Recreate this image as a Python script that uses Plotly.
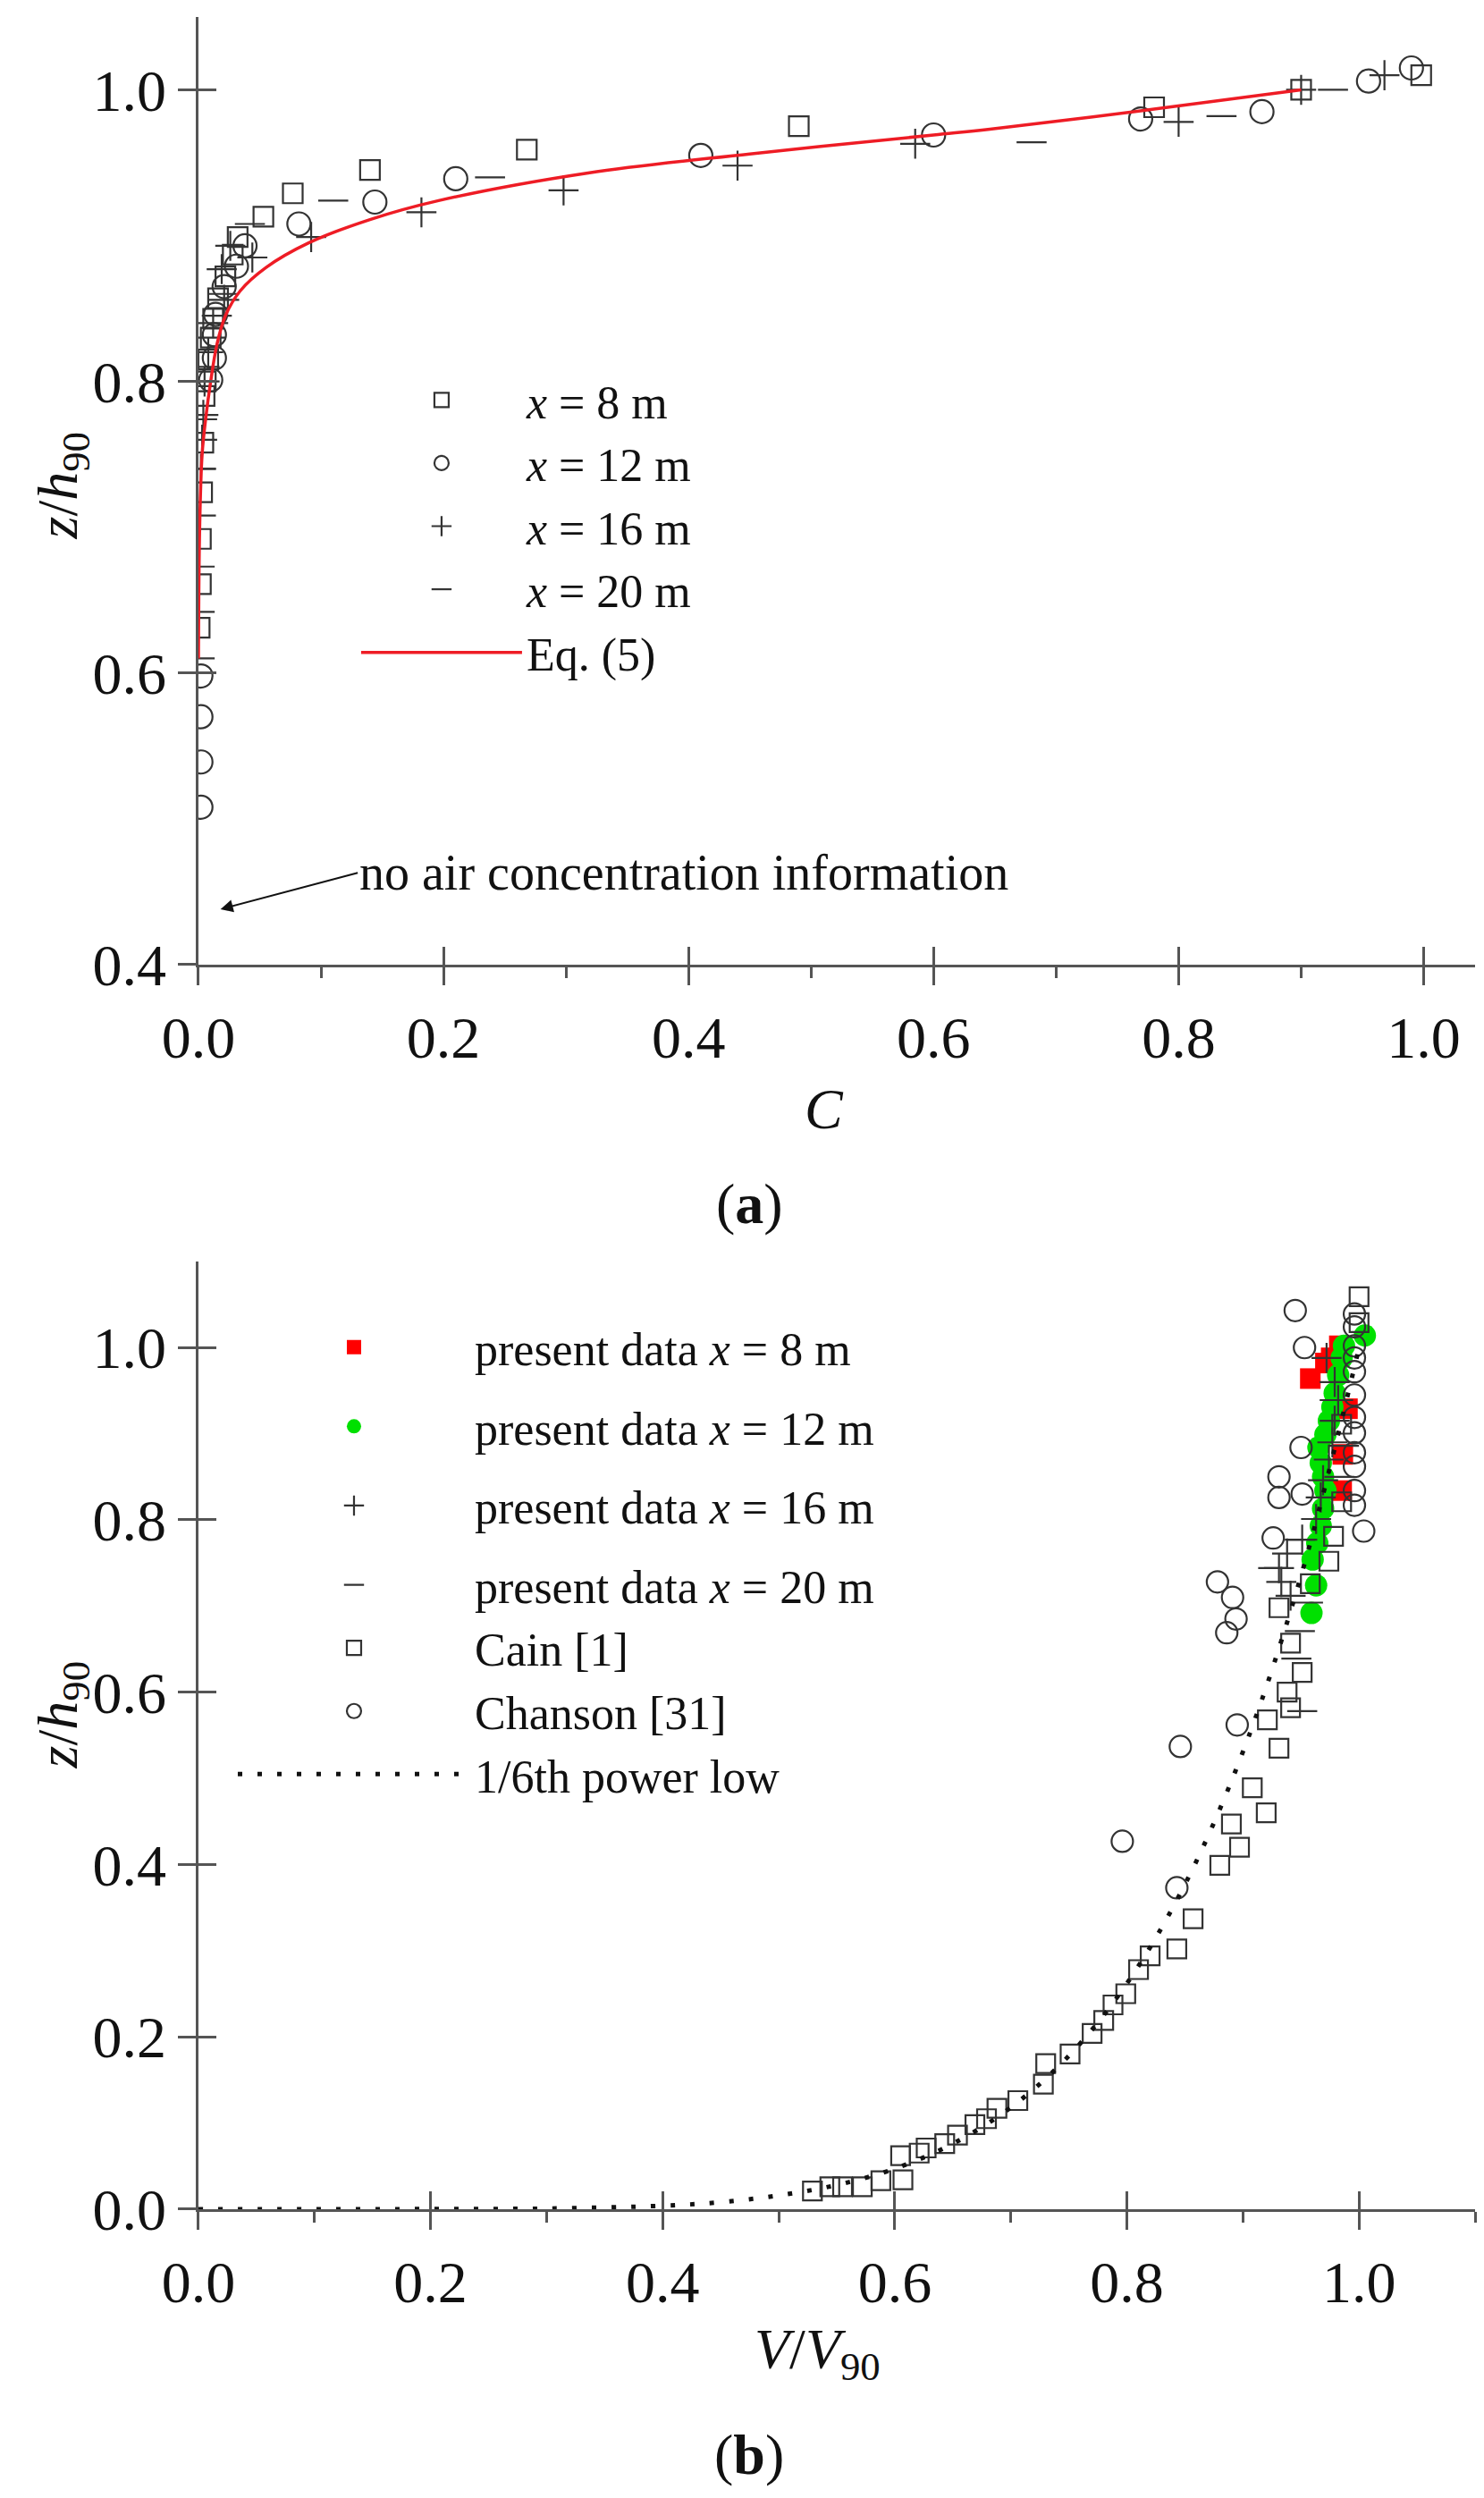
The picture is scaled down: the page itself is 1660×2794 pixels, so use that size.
import plotly.graph_objects as go

# ---- panel (a): air concentration C vs z/h90 ----
c_8m = [0.998, 0.90, 0.78, 0.49, 0.268, 0.14, 0.077, 0.053, 0.032, 0.028, 0.022, 0.016,
        0.012, 0.010, 0.008, 0.006, 0.005, 0.004, 0.003, 0.002, 0.002, 0.001]
z_8m = [1.010, 1.000, 0.988, 0.975, 0.959, 0.945, 0.929, 0.913, 0.899, 0.887, 0.872, 0.857,
        0.843, 0.830, 0.815, 0.800, 0.790, 0.758, 0.724, 0.692, 0.661, 0.631]

c_12m = [0.99, 0.955, 0.868, 0.769, 0.60, 0.41, 0.21, 0.144, 0.082, 0.038, 0.031, 0.021,
         0.014, 0.013, 0.013, 0.010, 0.002, 0.002, 0.002, 0.002]
z_12m = [1.015, 1.006, 0.985, 0.980, 0.969, 0.955, 0.939, 0.923, 0.908, 0.893, 0.879, 0.865,
         0.846, 0.832, 0.816, 0.801, 0.598, 0.570, 0.539, 0.508]

c_16m = [0.968, 0.90, 0.80, 0.585, 0.44, 0.298, 0.182, 0.092, 0.044, 0.026, 0.019, 0.021,
         0.012, 0.008, 0.005, 0.004, 0.003, 0.002]
z_16m = [1.010, 1.000, 0.978, 0.963, 0.948, 0.931, 0.916, 0.899, 0.885, 0.893, 0.877, 0.856,
         0.840, 0.820, 0.800, 0.777, 0.760, 0.740]

c_20m = [0.926, 0.835, 0.68, 0.238, 0.11, 0.042, 0.020, 0.015, 0.010, 0.005, 0.003, 0.002,
         0.002, 0.001, 0.001, 0.001]
z_20m = [1.000, 0.982, 0.964, 0.940, 0.924, 0.908, 0.860, 0.845, 0.830, 0.810, 0.774, 0.740,
         0.708, 0.673, 0.642, 0.610]

c_eq5 = [0.0, 0.001, 0.003, 0.006, 0.010, 0.015, 0.022, 0.034, 0.055, 0.090, 0.140, 0.196,
         0.318, 0.45, 0.60, 0.646, 0.773, 0.90]
z_eq5 = [0.610, 0.700, 0.750, 0.775, 0.800, 0.825, 0.845, 0.862, 0.878, 0.895, 0.911, 0.924,
         0.943, 0.956, 0.969, 0.973, 0.986, 1.000]

# ---- panel (b): V/V90 vs z/h90 ----
v_p8 = [0.958, 0.971, 0.976, 0.983, 0.990, 0.986, 0.985]
z_p8 = [0.964, 0.982, 0.988, 1.002, 0.929, 0.876, 0.834]

v_p12 = [0.959, 0.963, 0.960, 0.964, 0.967, 0.969, 0.971, 0.969, 0.967, 0.965, 0.971, 0.974,
         0.977, 0.979, 0.982, 0.985, 0.987, 1.005]
z_p12 = [0.692, 0.724, 0.754, 0.773, 0.793, 0.813, 0.834, 0.850, 0.866, 0.884, 0.899, 0.915,
         0.931, 0.947, 0.968, 0.988, 1.002, 1.014]

v_p16 = [0.972, 0.979, 0.982, 0.979, 0.977, 0.974, 0.969, 0.967, 0.963, 0.951, 0.938, 0.931,
         0.933, 0.941]
z_p16 = [0.988, 0.960, 0.939, 0.915, 0.890, 0.870, 0.846, 0.826, 0.801, 0.777, 0.761, 0.744,
         0.728, 0.712]

v_p20 = [0.949, 0.926, 0.956, 0.949, 0.946, 0.951, 0.979, 0.987, 0.983]
z_p20 = [0.777, 0.744, 0.704, 0.671, 0.639, 0.578, 0.939, 0.886, 0.850]

v_cain = [0.529, 0.544, 0.555, 0.572, 0.588, 0.607, 0.605, 0.621, 0.627, 0.643, 0.654, 0.669,
          0.679, 0.688, 0.706, 0.728, 0.730, 0.751, 0.770, 0.780, 0.788, 0.799, 0.810, 0.820,
          0.843, 0.857, 0.880, 0.897, 0.890, 0.920, 0.908, 0.931, 0.921, 0.941, 0.938, 0.951,
          0.941, 0.931, 0.958, 0.974, 0.978, 0.985, 0.985, 1.000, 1.000]
z_cain = [0.021, 0.026, 0.026, 0.026, 0.033, 0.034, 0.062, 0.065, 0.071, 0.076, 0.086, 0.098,
          0.105, 0.117, 0.126, 0.145, 0.169, 0.180, 0.204, 0.219, 0.237, 0.250, 0.278, 0.294,
          0.302, 0.337, 0.399, 0.420, 0.447, 0.460, 0.489, 0.535, 0.568, 0.582, 0.600, 0.623,
          0.657, 0.698, 0.726, 0.752, 0.781, 0.821, 0.911, 1.029, 1.059]

v_chanson = [0.796, 0.843, 0.846, 0.895, 0.886, 0.894, 0.891, 0.878, 0.926, 0.931, 0.931, 0.951,
             0.950, 0.945, 0.953, 0.996, 0.996, 0.996, 0.996, 0.996, 0.996, 0.996, 0.996,
             0.996, 0.996, 0.996, 0.996, 1.004]
z_chanson = [0.427, 0.373, 0.537, 0.562, 0.669, 0.685, 0.710, 0.728, 0.779, 0.826, 0.850, 0.830,
             0.884, 1.043, 1.000, 1.039, 1.024, 1.002, 0.988, 0.972, 0.945, 0.919, 0.901,
             0.878, 0.862, 0.834, 0.817, 0.787]

v_power = [0.0, 0.1, 0.2, 0.3, 0.4, 0.45, 0.5, 0.55, 0.6, 0.65, 0.7, 0.75, 0.8, 0.85, 0.9,
           0.95, 1.0]
z_power = [0.0, 0.0, 0.0001, 0.0007, 0.004, 0.008, 0.016, 0.028, 0.047, 0.076, 0.118, 0.178,
           0.262, 0.377, 0.531, 0.735, 1.0]

FONT = "Liberation Serif"
INK = "#333333"
AX = "#555555"

fig = go.Figure()


def open_marker(symbol, size):
    # for *-open symbols plotly strokes with marker.color
    return dict(symbol=symbol, size=size, color=INK, line=dict(color=INK, width=2.2))


# panel (a) traces
fig.add_trace(go.Scatter(x=c_8m, y=z_8m, mode="markers", name="<i>x</i> = 8 m",
                         marker=open_marker("square-open", 22), legend="legend"))
fig.add_trace(go.Scatter(x=c_12m, y=z_12m, mode="markers", name="<i>x</i> = 12 m",
                         marker=open_marker("circle-open", 26), legend="legend"))
fig.add_trace(go.Scatter(x=c_16m, y=z_16m, mode="markers", name="<i>x</i> = 16 m",
                         marker=open_marker("cross-thin-open", 24), legend="legend"))
fig.add_trace(go.Scatter(x=c_20m, y=z_20m, mode="markers", name="<i>x</i> = 20 m",
                         marker=open_marker("line-ew-open", 24), legend="legend"))
fig.add_trace(go.Scatter(x=c_eq5, y=z_eq5, mode="lines", name="Eq. (5)",
                         line=dict(color="#ee1c25", width=3.5, shape="spline"),
                         legend="legend"))

# panel (b) traces
fig.add_trace(go.Scatter(x=v_p8, y=z_p8, mode="markers", name="present data <i>x</i> = 8 m",
                         marker=dict(symbol="square", size=23, color="#ff0000"),
                         xaxis="x2", yaxis="y2", legend="legend2", legendgroup="a"))
fig.add_trace(go.Scatter(x=v_p12, y=z_p12, mode="markers", name="present data <i>x</i> = 12 m",
                         marker=dict(symbol="circle", size=25, color="#00e000"),
                         xaxis="x2", yaxis="y2", legend="legend2", legendgroup="b"))
fig.add_trace(go.Scatter(x=v_p16, y=z_p16, mode="markers", name="present data <i>x</i> = 16 m",
                         marker=open_marker("cross-thin-open", 24),
                         xaxis="x2", yaxis="y2", legend="legend2", legendgroup="c"))
fig.add_trace(go.Scatter(x=v_p20, y=z_p20, mode="markers", name="present data <i>x</i> = 20 m",
                         marker=open_marker("line-ew-open", 24),
                         xaxis="x2", yaxis="y2", legend="legend2", legendgroup="d"))
fig.add_trace(go.Scatter(x=v_cain, y=z_cain, mode="markers", name="Cain [1]",
                         marker=open_marker("square-open", 21),
                         xaxis="x2", yaxis="y2", legend="legend2", legendgroup="d"))
fig.add_trace(go.Scatter(x=v_chanson, y=z_chanson, mode="markers", name="Chanson [31]",
                         marker=open_marker("circle-open", 24),
                         xaxis="x2", yaxis="y2", legend="legend2", legendgroup="d"))
fig.add_trace(go.Scatter(x=v_power, y=z_power, mode="lines", name="1/6th power low",
                         line=dict(color="#111111", width=5, dash="5px,17px", shape="spline"),
                         xaxis="x2", yaxis="y2", legend="legend2", legendgroup="d"))

# empty traces so the overlay axes (inside half of the crossing ticks) get drawn
for xa, ya in [("x3", "y3"), ("x4", "y4")]:
    fig.add_trace(go.Scatter(x=[None], y=[None], xaxis=xa, yaxis=ya, showlegend=False,
                             hoverinfo="skip"))

tickfont = dict(family=FONT, size=66, color="#111111")
xdom = [0.1289, 0.9892]
ydom_a = [0.6167, 0.9961]
ydom_b = [0.1185, 0.4979]

base = dict(showgrid=False, zeroline=False, showline=True, linecolor=AX, linewidth=2.5,
            ticks="outside", ticklen=20, tickwidth=2.5, tickcolor=AX, tickfont=tickfont,
            tickformat=".1f", automargin=False)
inner = dict(showgrid=False, zeroline=False, showline=False, ticks="inside", ticklen=20,
             tickwidth=2.5, tickcolor=AX, showticklabels=False, automargin=False)

xt = [0.0, 0.2, 0.4, 0.6, 0.8, 1.0]
minor = dict(dtick=0.1, ticks="outside", ticklen=12, tickwidth=2.5, tickcolor=AX)

fig.update_layout(
    width=1660, height=2794,
    margin=dict(l=0, r=0, t=0, b=0, autoexpand=False),
    paper_bgcolor="white", plot_bgcolor="white",
    font=dict(family=FONT, color="#111111"),
    xaxis=dict(base, domain=xdom, range=[0, 1.042], tickvals=xt, anchor="y",
               minor=minor, ticklabelstandoff=2),
    yaxis=dict(base, domain=ydom_a, range=[0.4, 1.05], tickvals=[0.4, 0.6, 0.8, 1.0],
               anchor="x", ticklabelstandoff=0),
    xaxis2=dict(base, domain=xdom, range=[0, 1.1], tickvals=xt, anchor="y2",
                minor=minor, ticklabelstandoff=2),
    yaxis2=dict(base, domain=ydom_b, range=[0, 1.1], tickvals=xt, anchor="x2",
                ticklabelstandoff=0),
    xaxis3=dict(inner, overlaying="x", matches="x", anchor="y3", tickvals=xt),
    yaxis3=dict(inner, overlaying="y", matches="y", anchor="x3",
                tickvals=[0.4, 0.6, 0.8, 1.0]),
    xaxis4=dict(inner, overlaying="x2", matches="x2", anchor="y4", tickvals=xt),
    yaxis4=dict(inner, overlaying="y2", matches="y2", anchor="x4", tickvals=xt),
    legend=dict(x=0.2355, y=0.8572, xanchor="left", yanchor="top", bgcolor="rgba(0,0,0,0)",
                font=dict(family=FONT, size=52, color="#111111"), itemwidth=180,
                tracegroupgap=0),
    legend2=dict(x=0.1524, y=0.478, xanchor="left", yanchor="top",
                 bgcolor="rgba(0,0,0,0)", font=dict(family=FONT, size=52, color="#111111"),
                 itemwidth=260, tracegroupgap=18),
    showlegend=True,
)

ann = dict(xref="paper", yref="paper", showarrow=False, xanchor="center", yanchor="middle",
           font=dict(family=FONT, size=64, color="#111111"))
fig.add_annotation(ann, text="<i>C</i>", x=0.5506, y=0.559)
fig.add_annotation(ann, text="<i>z</i>/<i>h</i><sub>90</sub>", x=0.037, y=0.8085,
                   textangle=-90)
fig.add_annotation(ann, text="<i>V</i>/<i>V</i><sub>90</sub>", x=0.546, y=0.061)
fig.add_annotation(ann, text="<i>z</i>/<i>h</i><sub>90</sub>", x=0.037, y=0.3164,
                   textangle=-90)
fig.add_annotation(ann, text="(<b>a</b>)", x=0.5, y=0.5208)
fig.add_annotation(ann, text="(<b>b</b>)", x=0.5, y=0.0204)

fig.add_annotation(x=0.018, y=0.438, xref="x", yref="y", ax=0.13, ay=0.463, axref="x",
                   ayref="y", text="no air concentration information", xanchor="left",
                   showarrow=True, arrowhead=2, arrowsize=1.4, arrowwidth=2,
                   arrowcolor="#111111", standoff=0,
                   font=dict(family=FONT, size=56, color="#111111"))

fig.write_html("out.html")
